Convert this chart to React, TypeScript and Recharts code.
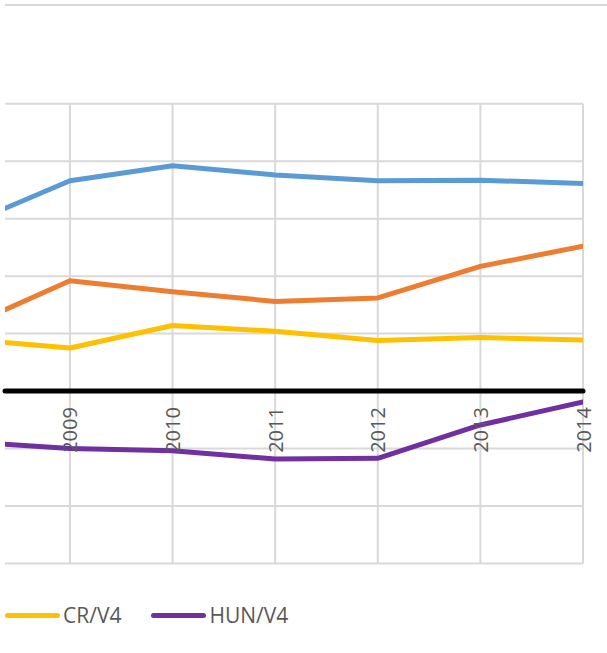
import React from 'react';
import { LineChart, Line, XAxis, YAxis, CartesianGrid, ReferenceLine, Legend } from 'recharts';

const years = [2008, 2009, 2010, 2011, 2012, 2013, 2014];
const plV4 = [2.9, 3.66, 3.92, 3.76, 3.66, 3.67, 3.61];
const skV4 = [1.12, 1.92, 1.73, 1.56, 1.62, 2.17, 2.52];
const crV4 = [0.9, 0.75, 1.14, 1.04, 0.88, 0.93, 0.89];
const hunV4 = [-0.88, -1.0, -1.04, -1.18, -1.17, -0.59, -0.19];
const xTicks = [2009, 2010, 2011, 2012, 2013, 2014];
const yTicks = [-3, -2, -1, 0, 1, 2, 3, 4, 5];

const data = years.map((y, i) => ({ year: y, pl: plV4[i], sk: skV4[i], cr: crV4[i], hun: hunV4[i] }));

const W = 607;
const H = 653;
const TOP = 103.7;
const BOTTOM = 563.5;
const X_AXIS_H = 30;
const Y_MIN = -3;
const Y_MAX = 5;
const ZERO_Y = TOP + ((BOTTOM - TOP) * Y_MAX) / (Y_MAX - Y_MIN);
const FONT = '"Open Sans", sans-serif';
const TEXT = '#595959';
const LW = 5;
const GRID = '#d9d9d9';

const YearTick = (props: any) => {
  const { x, payload } = props;
  return (
    <text
      transform={`translate(${x}, ${ZERO_Y + 16}) rotate(-90)`}
      textAnchor="end"
      dominantBaseline="central"
      fill={TEXT}
      fontSize={20}
      fontFamily={FONT}
    >
      {payload.value}
    </text>
  );
};

const LegendContent = (props: any) => {
  const items = (props.payload || []).filter((p: any) => p.type !== 'none');
  return (
    <div style={{ display: 'flex', alignItems: 'center', fontFamily: FONT, fontSize: 21, color: TEXT }}>
      {items.map((p: any, i: number) => (
        <div key={i} style={{ display: 'flex', alignItems: 'center', marginRight: 30 }}>
          <span style={{ display: 'inline-block', width: 55, height: 5, borderRadius: 3, background: p.color, marginRight: 3 }} />
          <span>{p.value}</span>
        </div>
      ))}
    </div>
  );
};

export default function App() {
  return (
    <div style={{ position: 'absolute', left: 0, top: 0, width: W, height: H, background: '#fff' }}>
      <div style={{ position: 'absolute', left: 5, top: 4, width: W - 5, height: 2, background: GRID }} />
      <LineChart
        width={W}
        height={H}
        data={data}
        margin={{ top: TOP, right: W - 583, bottom: H - BOTTOM - X_AXIS_H, left: 5 }}
      >
        <CartesianGrid stroke={GRID} strokeWidth={2} vertical={false} />
        {xTicks.map((t) => (
          <ReferenceLine key={t} x={t} stroke={GRID} strokeWidth={2} />
        ))}
        <YAxis hide type="number" domain={[Y_MIN, Y_MAX]} ticks={yTicks} />
        <ReferenceLine y={0} stroke="#000" strokeWidth={LW} strokeLinecap="round" />
        <Line dataKey="pl" name="PL/V4" stroke="#5B9BD5" strokeWidth={LW} dot={false} legendType="none" strokeLinecap="round" strokeLinejoin="round" isAnimationActive={false} />
        <Line dataKey="sk" name="SK/V4" stroke="#ED7D31" strokeWidth={LW} dot={false} legendType="none" strokeLinecap="round" strokeLinejoin="round" isAnimationActive={false} />
        <Line dataKey="cr" name="CR/V4" stroke="#FFC000" strokeWidth={LW} dot={false} strokeLinecap="round" strokeLinejoin="round" isAnimationActive={false} />
        <Line dataKey="hun" name="HUN/V4" stroke="#7030A0" strokeWidth={LW} dot={false} strokeLinecap="round" strokeLinejoin="round" isAnimationActive={false} />
        <XAxis
          dataKey="year"
          type="number"
          domain={[2008.367, 2014]}
          allowDataOverflow
          ticks={xTicks}
          height={X_AXIS_H}
          axisLine={false}
          tickLine={false}
          tick={<YearTick />}
          interval={0}
        />
        <Legend
          layout="horizontal"
          verticalAlign="middle"
          align="center"
          content={<LegendContent />}
          wrapperStyle={{ position: 'absolute', left: 5, top: 601, width: 400 }}
        />
      </LineChart>
    </div>
  );
}
